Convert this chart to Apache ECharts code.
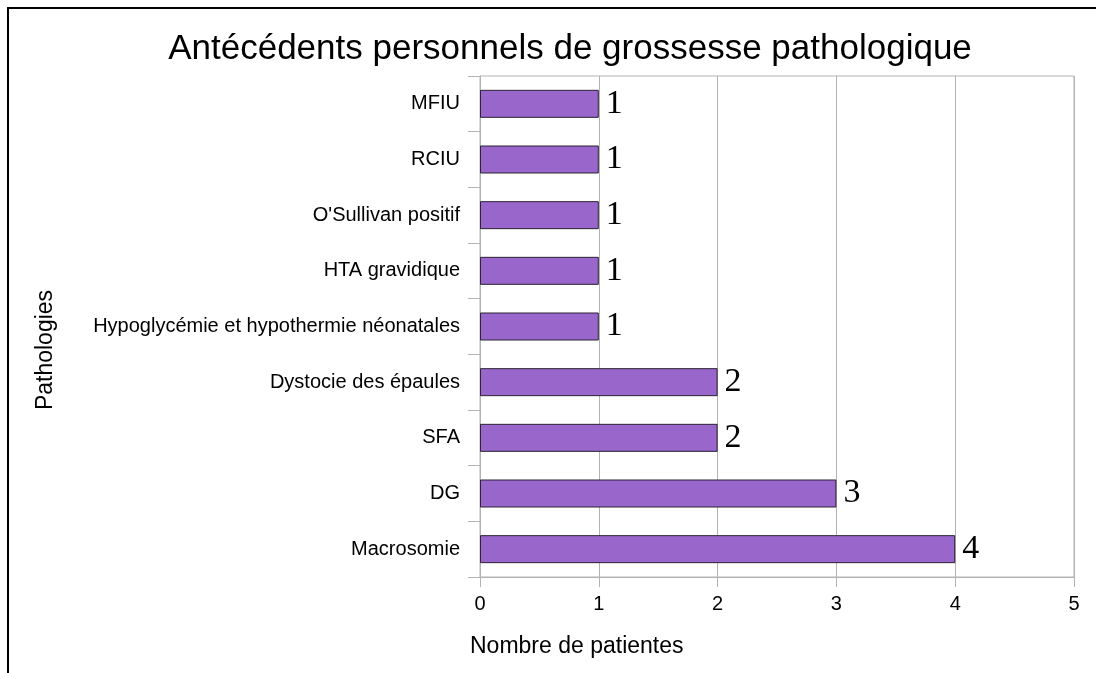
<!DOCTYPE html>
<html>
<head>
<meta charset="utf-8">
<script src="https://cdn.jsdelivr.net/npm/echarts@6/dist/echarts.min.js"></script>
<style>
  html, body { margin: 0; padding: 0; background: #fff; }
  #main { width: 1096px; height: 673px; }
</style>
</head>
<body>
<div id="main"></div>
<script>
// categories from bottom to top
const categories = [
  'Macrosomie',
  'DG',
  'SFA',
  'Dystocie des épaules',
  'Hypoglycémie et hypothermie néonatales',
  'HTA gravidique',
  "O'Sullivan positif",
  'RCIU',
  'MFIU'
];
const patientes = [4, 3, 2, 2, 1, 1, 1, 1, 1];
const xTicks = [0, 1, 2, 3, 4, 5];

const gridGray = '#b3b3b3';
const sans = '"Liberation Sans", Arial, sans-serif';

const chart = echarts.init(document.getElementById('main'));
const option = {
  animation: false,
  title: {
    text: 'Antécédents personnels de grossesse pathologique',
    left: 565,
    top: 27,
    textAlign: 'center',
    textStyle: { fontFamily: sans, fontSize: 35, fontWeight: 'normal', color: '#000' }
  },
  grid: {
    left: 480, right: 22, top: 76, bottom: 96,
    show: true, borderColor: gridGray, borderWidth: 1
  },
  xAxis: {
    type: 'value',
    min: xTicks[0],
    max: xTicks[xTicks.length - 1],
    interval: 1,
    axisLine: { show: true, lineStyle: { color: gridGray } },
    axisTick: { show: true, length: 10, lineStyle: { color: gridGray } },
    axisLabel: { color: '#000', fontFamily: sans, fontSize: 20, margin: 17 },
    splitLine: { show: true, lineStyle: { color: gridGray } }
  },
  yAxis: {
    type: 'category',
    data: categories,
    axisLine: { show: true, lineStyle: { color: gridGray } },
    axisTick: { show: true, length: 12, lineStyle: { color: gridGray } },
    axisLabel: { color: '#000', fontFamily: sans, fontSize: 20, margin: 20 },
    splitLine: { show: false }
  },
  series: [{
    type: 'bar',
    data: patientes,
    barWidth: 28,
    itemStyle: { color: '#9966cc', borderColor: '#2b2233', borderWidth: 1 },
    label: {
      show: true,
      position: 'right',
      distance: 7,
      color: '#000',
      fontFamily: '"Liberation Serif", "Times New Roman", serif',
      fontSize: 34
    }
  }],
  graphic: [
    {
      type: 'rect',
      shape: { x: 8, y: 8, width: 2000, height: 2000 },
      style: { fill: 'none', stroke: '#000', lineWidth: 2 },
      silent: true
    },
    {
      type: 'text',
      left: 470, top: 635,
      style: { text: 'Nombre de patientes', fontFamily: sans, fontSize: 23, fill: '#000' }
    },
    {
      type: 'text',
      x: 46, y: 350,
      rotation: Math.PI / 2,
      style: {
        text: 'Pathologies', fontFamily: sans, fontSize: 23, fill: '#000',
        align: 'center', verticalAlign: 'middle'
      }
    }
  ]
};
chart.setOption(option);
</script>
</body>
</html>
